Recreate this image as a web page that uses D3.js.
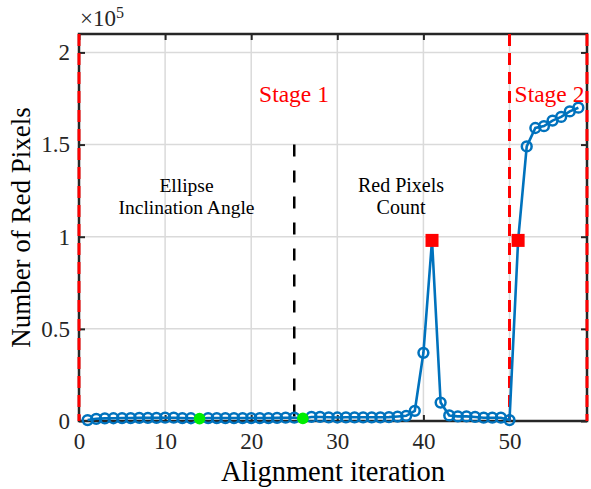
<!DOCTYPE html>
<html><head><meta charset="utf-8">
<script src="https://cdn.jsdelivr.net/npm/d3@7"></script>
<style>body{margin:0;background:#fff}svg{display:block}text{font-family:'Liberation Serif','Times New Roman',serif}</style>
</head><body>
<script>
const iterations = d3.range(1, 59);
const redPixels = [0.005,0.012,0.014,0.015,0.016,0.016,0.017,0.017,0.017,0.018,
  0.018,0.016,0.015,0.013,0.016,0.016,0.016,0.016,0.016,0.016,
  0.016,0.016,0.017,0.018,0.018,0.014,0.022,0.022,0.020,0.019,
  0.020,0.020,0.020,0.020,0.020,0.021,0.024,0.028,0.055,0.37,
  0.98,0.10,0.03,0.025,0.025,0.022,0.018,0.018,0.018,0.005,
  0.98,1.49,1.59,1.60,1.63,1.65,1.68,1.70];
const greenIters = [14, 26];
const redIters = [41, 51];
const stageLines = [0, 50, 59];
const splitIter = 25, splitTop = 1.5;
const xTicks = [0,10,20,30,40,50];
const yTicks = [0,0.5,1,1.5,2];
const yTickLabels = ["0","0.5","1","1.5","2"];

const W = 591, H = 489;
const m = {l:79, r:4, t:34, b:68};
const font = "'Liberation Serif','Times New Roman',serif";
const svg = d3.select("body").append("svg").attr("width",W).attr("height",H);
const x = d3.scaleLinear().domain([0,59]).range([m.l, W-m.r]);
const y = d3.scaleLinear().domain([0,2.1]).range([H-m.b, m.t]);
const pw = W-m.r-m.l, ph = H-m.b-m.t;

// grid
const g = svg.append("g");
g.selectAll(".gx").data(xTicks.slice(1)).join("line")
  .attr("x1",d=>x(d)).attr("x2",d=>x(d)).attr("y1",m.t).attr("y2",H-m.b)
  .attr("stroke","#dadada").attr("stroke-width",1.5);
g.selectAll(".gy").data(yTicks.slice(1)).join("line")
  .attr("y1",d=>y(d)).attr("y2",d=>y(d)).attr("x1",m.l).attr("x2",W-m.r)
  .attr("stroke","#dadada").attr("stroke-width",1.5);

// axes
const xb = d3.axisBottom(x).tickValues(xTicks).tickSize(-6).tickPadding(12).tickFormat(d3.format("d"));
const xt = d3.axisTop(x).tickValues(xTicks).tickSize(-6).tickFormat("");
const yl = d3.axisLeft(y).tickValues(yTicks).tickSize(-6).tickPadding(9).tickFormat((d,i)=>yTickLabels[i]);
const yr = d3.axisRight(y).tickValues(yTicks).tickSize(-6).tickFormat("");
function style(sel){
  sel.attr("font-family",null).attr("font-size",null);
  sel.select(".domain").remove();
  sel.selectAll(".tick line").attr("stroke","#262626").attr("stroke-width",2);
  sel.selectAll(".tick text").style("font-family",font).style("font-size","23px").attr("fill","#262626");
}
svg.append("g").attr("transform",`translate(0,${H-m.b})`).call(xb).call(style);
svg.append("g").attr("transform",`translate(0,${m.t})`).call(xt).call(style);
svg.append("g").attr("transform",`translate(${m.l},0)`).call(yl).call(style);
svg.append("g").attr("transform",`translate(${W-m.r},0)`).call(yr).call(style);
svg.append("rect").attr("x",m.l).attr("y",m.t).attr("width",pw).attr("height",ph)
  .attr("fill","none").attr("stroke","#262626").attr("stroke-width",2.5);

// stage lines
svg.selectAll(".stage").data(stageLines).join("line")
  .attr("x1",d=>x(d)).attr("x2",d=>x(d)).attr("y1",m.t).attr("y2",H-m.b)
  .attr("stroke","#ff0000").attr("stroke-width",3).attr("stroke-dasharray","12,7");
svg.append("line").attr("x1",x(splitIter)).attr("x2",x(splitIter))
  .attr("y1",y(splitTop)).attr("y2",y(0))
  .attr("stroke","#000").attr("stroke-width",2.5).attr("stroke-dasharray","12,14");

// data
const pts = iterations.map((it,i)=>({it, v:redPixels[i]}));
svg.append("path").datum(pts)
  .attr("d", d3.line().x(d=>x(d.it)).y(d=>y(d.v)))
  .attr("fill","none").attr("stroke","#0072BD").attr("stroke-width",2.6);
svg.selectAll(".c").data(pts.filter(d=>!redIters.includes(d.it) && !greenIters.includes(d.it))).join("circle")
  .attr("cx",d=>x(d.it)).attr("cy",d=>y(d.v)).attr("r",4.9)
  .attr("fill","none").attr("stroke","#0072BD").attr("stroke-width",2.5);
svg.selectAll(".gc").data(pts.filter(d=>greenIters.includes(d.it))).join("circle")
  .attr("cx",d=>x(d.it)).attr("cy",d=>y(d.v)).attr("r",5.8).attr("fill","#00ee00");
svg.selectAll(".rs").data(pts.filter(d=>redIters.includes(d.it))).join("rect")
  .attr("x",d=>x(d.it)-6.5).attr("y",d=>y(d.v)-6.5).attr("width",13).attr("height",13).attr("fill","#ff0000");

// texts
const t = (txt,xx,yy,size,fill,anchor="middle") => svg.append("text").attr("x",xx).attr("y",yy)
  .style("font-size",size+"px").attr("fill",fill).attr("text-anchor",anchor).text(txt);
t("Stage 1", 294, 102, 23.5, "#ff0000");
t("Stage 2", 549.5, 102, 23.5, "#ff0000");
t("Ellipse", 186.5, 192, 19.5, "#000");
t("Inclination Angle", 186.5, 214, 19.5, "#000");
t("Red Pixels", 401, 192, 20, "#000");
t("Count", 401, 214, 20, "#000");
t("Alignment iteration", (m.l+W-m.r)/2, 481, 28.5, "#000");
svg.append("text").attr("transform",`translate(30,${(m.t+H-m.b)/2}) rotate(-90)`)
  .attr("text-anchor","middle").style("font-size","27px").text("Number of Red Pixels");
const ex = svg.append("text").attr("x",80).attr("y",26).style("font-size","23px").attr("fill","#262626");
ex.append("tspan").text("×10");
ex.append("tspan").style("font-size","16px").attr("dy",-8).text("5");
</script>
</body></html>
